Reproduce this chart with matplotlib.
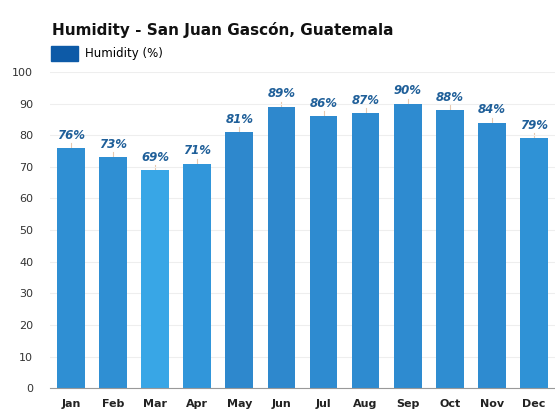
import matplotlib.pyplot as plt
from matplotlib.patches import Patch

months = ['Jan', 'Feb', 'Mar', 'Apr', 'May', 'Jun', 'Jul', 'Aug', 'Sep', 'Oct', 'Nov', 'Dec']
humidity = [76, 73, 69, 71, 81, 89, 86, 87, 90, 88, 84, 79]
bar_colors = ['#2f8fd3', '#2f8fd3', '#38a6e6', '#3196da', '#2e88cd', '#2e88cd',
              '#2e8bd0', '#2e8bd0', '#2e8bd0', '#2f8dd1', '#2e8bd0', '#2f92d6']

fig = plt.figure(figsize=(5.55, 4.09), dpi=100)
ax = fig.add_axes([0.09, 0.051, 0.91, 0.773])

x = range(len(months))
ax.bar(x, humidity, width=0.66, color=bar_colors, zorder=2)

# small whiskers above each bar
for i, v in enumerate(humidity):
    ax.plot([i, i], [v, v + 1.6], color='#e8c9b0', lw=0.8, zorder=1)
    ax.text(i, v + 2.0, f'{v}%', ha='center', va='bottom', fontsize=8.5,
            fontweight='bold', fontstyle='italic', color='#1f5f99')

ax.set_ylim(0, 100)
ax.set_xlim(-0.5, 11.5)
ax.set_yticks(range(0, 101, 10))
ax.set_xticks(list(x))
ax.set_xticklabels(months, fontsize=8, fontweight='bold', color='#222222')
ax.tick_params(axis='y', labelsize=8, labelcolor='#333333', length=0, pad=12)
ax.tick_params(axis='x', length=0, pad=8)
ax.grid(axis='y', color='#eeeeee', lw=0.8, zorder=0)
for s in ['top', 'right', 'left']:
    ax.spines[s].set_visible(False)
ax.spines['bottom'].set_color('#999999')

fig.text(0.093, 0.915, 'Humidity - San Juan Gascón, Guatemala', fontsize=11,
         fontweight='bold', color='#111111')
fig.legend(handles=[Patch(color='#0d5aa7', label='Humidity (%)')],
           loc='lower left', bbox_to_anchor=(0.09, 0.848), frameon=False,
           fontsize=8.5, handlelength=2.3, handleheight=1.6, handletextpad=0.6,
           borderaxespad=0, borderpad=0.1)

fig.savefig('out.png', dpi=100)
